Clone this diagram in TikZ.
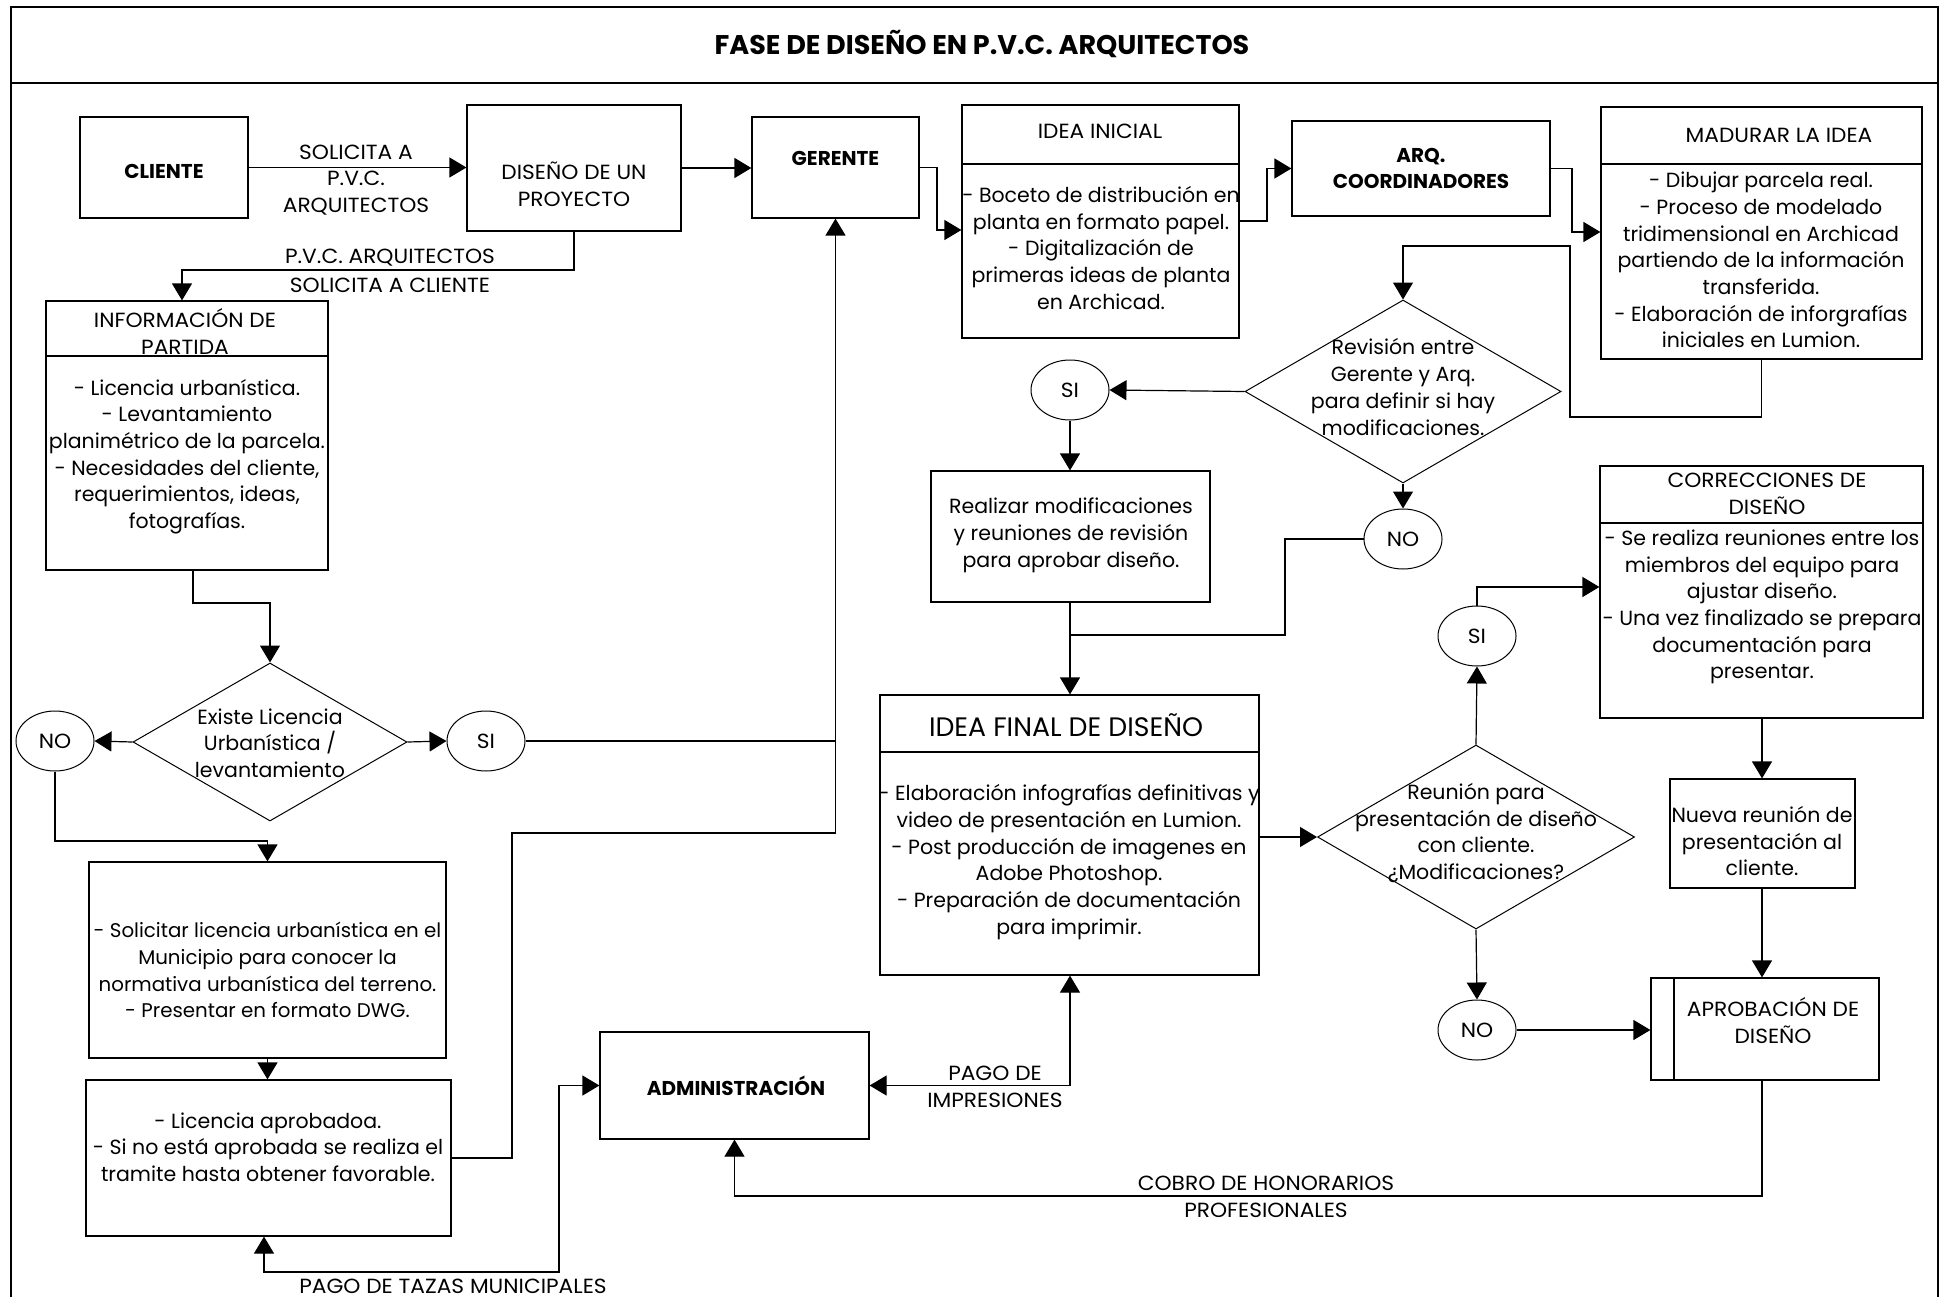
\documentclass[tikz,border=0pt]{standalone}
\usepackage{fontspec}
\setmainfont{Poppins}
\newfontfamily\capsfont[FakeStretch=1.06]{Poppins}
\usetikzlibrary{arrows.meta,shapes.geometric}
\begin{document}
\begin{tikzpicture}[x=1pt,y=-1pt,
  box/.style={draw, rectangle, line width=1.2pt, inner sep=0pt},
  dec/.style={draw, diamond, line width=1pt, inner sep=0pt},
  oval/.style={draw, ellipse, line width=1pt, inner sep=0pt, minimum width=78pt, minimum height=60pt, font=\capsfont\fontsize{20.5}{24}\selectfont},
  txt/.style={align=center, inner sep=0pt, font=\fontsize{20.5}{26.7}\selectfont},
  ctxt/.style={align=center, inner sep=0pt, font=\capsfont\fontsize{20.5}{26.7}\selectfont},
  btxt/.style={align=center, inner sep=0pt, font=\fontsize{20}{26.7}\selectfont\bfseries},
  link/.style={line width=1.2pt},
  flow/.style={line width=1.2pt, -{Triangle[length=17pt,width=20pt]}},
  both/.style={line width=1.2pt, {Triangle[length=17pt,width=20pt]}-{Triangle[length=17pt,width=20pt]}}]
\useasboundingbox (0,0) rectangle (1942,1297);

% outer frame and title band
\draw[line width=1.2pt] (11,1300) -- (11,7) -- (1938,7) -- (1938,1300);
\draw[line width=1.2pt] (11,83) -- (1938,83);
\node[inner sep=0pt, font=\fontsize{27}{30}\selectfont\bfseries] (title) at (982,44) {FASE DE DISEÑO EN P.V.C. ARQUITECTOS};

% boxes
\node[box, minimum width=168pt, minimum height=101pt] (cliente) at (164,167.5) {};
\node[box, minimum width=214pt, minimum height=126pt] (diseno) at (574,168) {};
\node[box, minimum width=167pt, minimum height=101pt] (gerente) at (835.5,167.5) {};
\node[box, minimum width=277pt, minimum height=233pt] (ideaini) at (1100.5,221.5) {};
\node[box, minimum width=258pt, minimum height=95pt] (arq) at (1421,168.5) {};
\node[box, minimum width=321pt, minimum height=252pt] (madurar) at (1761.5,233) {};
\node[box, minimum width=282pt, minimum height=269pt] (info) at (187,435.5) {};
\node[box, minimum width=357pt, minimum height=196pt] (solicitar) at (267.5,960) {};
\node[box, minimum width=365pt, minimum height=156pt] (licencia) at (268.5,1158) {};
\node[box, minimum width=269pt, minimum height=107pt] (admin) at (734.5,1085.5) {};
\node[box, minimum width=279pt, minimum height=131pt] (realizar) at (1070.5,536.5) {};
\node[box, minimum width=379pt, minimum height=280pt] (ideafinal) at (1069.5,835) {};
\node[box, minimum width=323pt, minimum height=252pt] (correcciones) at (1761.5,592) {};
\node[box, minimum width=185pt, minimum height=109pt] (nueva) at (1762.5,833.5) {};
\node[box, minimum width=228pt, minimum height=102pt] (aprob) at (1765,1029) {};

% header rules inside the boxes
\draw[link] (ideaini.west |- 0,164) -- (ideaini.east |- 0,164);
\draw[link] (madurar.west |- 0,164) -- (madurar.east |- 0,164);
\draw[link] (info.west |- 0,356) -- (info.east |- 0,356);
\draw[link] (ideafinal.west |- 0,752) -- (ideafinal.east |- 0,752);
\draw[link] (correcciones.west |- 0,523) -- (correcciones.east |- 0,523);
\draw[link] (aprob.north -| 1674,0) -- (aprob.south -| 1674,0);

% decisions
\node[dec, minimum width=274pt, minimum height=158pt] (existe) at (270,742) {};
\node[dec, minimum width=316pt, minimum height=183pt] (revision) at (1403,391.5) {};
\node[dec, minimum width=317pt, minimum height=184pt] (reunion) at (1476,837) {};

% yes / no markers
\node[oval] (noL) at (55,741) {NO};
\node[oval] (siL) at (486,741) {SI};
\node[oval] (siT) at (1070,390) {SI};
\node[oval] (noT) at (1403,539) {NO};
\node[oval] (siB) at (1477,636) {SI};
\node[oval] (noB) at (1477,1030) {NO};

% box texts
\node[btxt] (tCliente) at (164,171) {CLIENTE};
\node[ctxt] (tDiseno) at (574,184) {DISEÑO DE UN\\PROYECTO};
\node[btxt] (tGerente) at (835.5,158) {GERENTE};
\node[ctxt] (tIdeaIniH) at (1100,131) {IDEA INICIAL};
\node[txt] (tIdeaIni) at (1101,248) {- Boceto de distribución en\\planta en formato papel.\\- Digitalización de\\primeras ideas de planta\\en Archicad.};
\node[btxt] (tArq) at (1421,168.5) {ARQ.\\COORDINADORES};
\node[ctxt] (tMadurarH) at (1779,135) {MADURAR LA IDEA};
\node[txt] (tMadurar) at (1761,260) {- Dibujar parcela real.\\- Proceso de modelado\\tridimensional en Archicad\\partiendo de la información\\transferida.\\- Elaboración de inforgrafías\\iniciales en Lumion.};
\node[ctxt] (tInfoH) at (185,331.5) {INFORMACIÓN DE\\PARTIDA};
\node[txt] (tInfo) at (187,456.5) {- Licencia urbanística.\\- Levantamiento\\planimétrico de la parcela.\\- Necesidades del cliente,\\requerimientos, ideas,\\fotografías.};
\node[txt] (tExiste) at (270,743) {Existe Licencia\\Urbanística /\\levantamiento};
\node[txt, font=\fontsize{19.8}{26.7}\selectfont] (tSolicitar) at (267.5,970) {- Solicitar licencia urbanística en el\\Municipio para conocer la\\normativa urbanística del terreno.\\- Presentar en formato DWG.};
\node[txt] (tLicencia) at (268,1147) {- Licencia aprobadoa.\\- Si no está aprobada se realiza el\\tramite hasta obtener favorable.};
\node[btxt] (tAdmin) at (736,1086) {ADMINISTRACIÓN};
\node[txt] (tRevision) at (1403,387) {Revisión entre\\Gerente y Arq.\\para definir si hay\\modificaciones.};
\node[txt] (tRealizar) at (1071,535.5) {Realizar modificaciones\\y reuniones de revisión\\para aprobar diseño.};
\node[inner sep=0pt, font=\fontsize{26.7}{30}\selectfont] (tIdeaFinH) at (1066,725) {IDEA FINAL DE DISEÑO};
\node[txt] (tIdeaFin) at (1069,862) {- Elaboración infografías definitivas y\\video de presentación en Lumion.\\- Post producción de imagenes en\\Adobe Photoshop.\\- Preparación de documentación\\para imprimir.};
\node[txt] (tReunion) at (1476,833) {Reunión para\\presentación de diseño\\con cliente.\\¿Modificaciones?};
\node[ctxt] (tCorrH) at (1767,493.5) {CORRECCIONES DE\\DISEÑO};
\node[txt] (tCorr) at (1762,607) {- Se realiza reuniones entre los\\miembros del equipo para\\ajustar diseño.\\- Una vez finalizado se prepara\\documentación para\\presentar.};
\node[txt] (tNueva) at (1762,841) {Nueva reunión de\\presentación al\\cliente.};
\node[ctxt] (tAprob) at (1773,1020.5) {APROBACIÓN DE\\DISEÑO};

% connector labels
\node[ctxt] (lSolicita) at (356,180) {SOLICITA A\\P.V.C.\\ARQUITECTOS};
\node[ctxt] (lPvc1) at (390,258) {P.V.C. ARQUITECTOS};
\node[ctxt] (lPvc2) at (390,285) {SOLICITA A CLIENTE};
\node[ctxt] (lTazas) at (453,1286) {PAGO DE TAZAS MUNICIPALES};
\node[ctxt] (lImpr) at (995,1086.5) {PAGO DE\\IMPRESIONES};
\node[ctxt] (lCobro) at (1266,1196.5) {COBRO DE HONORARIOS\\PROFESIONALES};

% joints where lines meet
\coordinate (joinG) at (835.5,741);
\coordinate (joinF) at (1070,635);

% connectors
\draw[flow] (cliente.east) -- (cliente.east -| diseno.west);
\draw[flow] (diseno.east) -- (diseno.east -| gerente.west);
\draw[flow] (gerente.east) -- (937,167.5) |- (ideaini.west |- 0,230);
\draw[flow] (diseno.south) |- (182,270) -- (info.north -| 182,0);
\draw[flow] (info.south -| 193,0) |- (existe.north |- 0,603) -- (existe.north);
\draw[flow] (existe.west) -- (noL.east);
\draw[flow] (existe.east) -- (siL.west);
\draw[link] (siL.east) -- (joinG);
\draw[flow] (noL.south) |- (solicitar.north |- 0,841) -- (solicitar.north);
\draw[flow] (solicitar.south) -- (solicitar.south |- licencia.north);
\draw[flow] (licencia.east) -| (512,833) -| (gerente.south);
\draw[both] (licencia.south -| 264,0) -- (264,1272) -| (559,1085.5) -- (admin.west);
\draw[both] (admin.east) -| (ideafinal.south -| 1070,0);
\draw[flow] (aprob.south -| 1762,0) |- (admin.south |- 0,1196) -- (admin.south);
\draw[flow] (madurar.south) -- (1761.5,417) -| (1570,246) -| (revision.north);
\draw[flow] (ideaini.east |- 0,221) -| (1267,168.5) -- (arq.west);
\draw[flow] (arq.east) -- (1572,168.5) |- (madurar.west |- 0,232);
\draw[flow] (revision.west) -- (siT.east);
\draw[flow] (siT.south) -- (siT.south |- realizar.north);
\draw[flow] (realizar.south -| 1070,0) -- (ideafinal.north -| 1070,0);
\draw[flow] (revision.south) -- (noT.north);
\draw[link] (noT.west) -| (1285,635) -- (joinF);
\draw[flow] (ideafinal.east |- reunion.west) -- (reunion.west);
\draw[flow] (reunion.north) -- (siB.south);
\draw[flow] (siB.north) |- (correcciones.west |- 0,587);
\draw[flow] (reunion.south) -- (noB.north);
\draw[flow] (noB.east) -- (noB.east -| aprob.west);
\draw[flow] (correcciones.south -| 1762,0) -- (nueva.north -| 1762,0);
\draw[flow] (nueva.south -| 1762,0) -- (aprob.north -| 1762,0);
\end{tikzpicture}
\end{document}
